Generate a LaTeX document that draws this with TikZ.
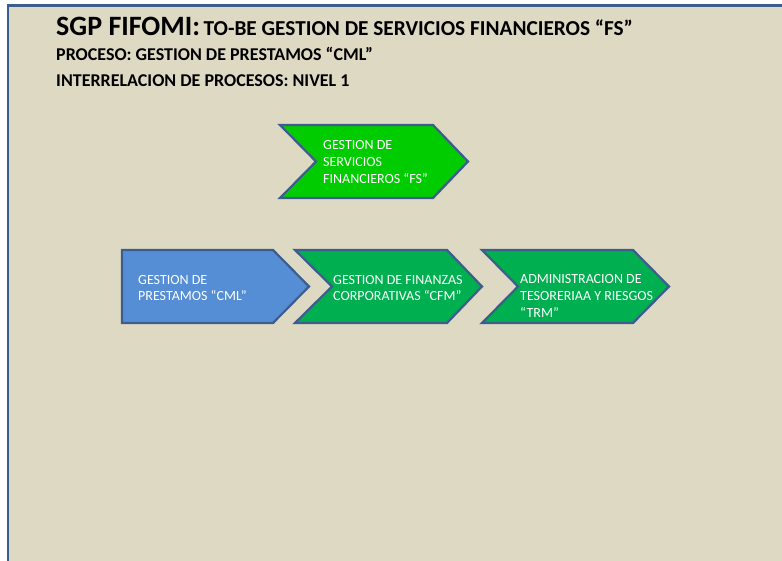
\documentclass[tikz,border=0pt]{standalone}
\usepackage{fontspec}
\setmainfont{Carlito}
\definecolor{bgtan}{HTML}{DDD9C3}
\definecolor{frameblue}{HTML}{3B5E8F}
\definecolor{edgeblue}{HTML}{3E5C8C}
\definecolor{brightgreen}{HTML}{00CC00}
\definecolor{midgreen}{HTML}{00B050}
\definecolor{boxblue}{HTML}{558ED5}
\tikzset{
  shapebox/.style={draw=edgeblue, line width=2.2pt, line join=miter},
  shapetext/.style={text=white, align=left, inner sep=0pt, font=\fontsize{14}{17}\selectfont},
  titletext/.style={inner sep=0pt, font=\fontsize{18}{22}\selectfont\bfseries, text=black}
}
\begin{document}
\begin{tikzpicture}[x=1pt,y=-1pt]
\useasboundingbox (0,0) rectangle (782,560);
\fill[white] (0,0) rectangle (782,560);
\fill[bgtan] (8,5.5) rectangle (800,580);
\draw[frameblue, line width=2.6pt] (800,5.5) -- (8,5.5) -- (8,580);

% title
\node[titletext, anchor=base west] (t1) at (56,35) {{\fontsize{28}{32}\selectfont SGP FIFOMI:}{\fontsize{21.3}{24}\selectfont\,TO-BE GESTION DE SERVICIOS FINANCIEROS “FS”}};
\node[titletext, anchor=base west] (t2) at (56,60) {PROCESO: GESTION DE PRESTAMOS “CML”};
\node[titletext, anchor=base west] (t3) at (56,86) {INTERRELACION DE PROCESOS: NIVEL 1};

% top chevron
\draw[shapebox, fill=brightgreen] (280,125) -- (433,125) -- (468,161.5) -- (433,198) -- (280,198) -- (316,161.5) -- cycle;
\node[shapetext, anchor=west] (fs) at (323,162) {GESTION DE\\SERVICIOS\\FINANCIEROS “FS”};

% blue pentagon
\draw[shapebox, fill=boxblue] (122,250) -- (273,250) -- (309,286.5) -- (273,323) -- (122,323) -- cycle;
\node[shapetext, anchor=west] (cml) at (138,288) {GESTION DE\\PRESTAMOS “CML”};

% green chevron 2
\draw[shapebox, fill=midgreen] (295,250) -- (447,250) -- (482,286.5) -- (447,323) -- (295,323) -- (332,286.5) -- cycle;
\node[shapetext, anchor=west] (cfm) at (333,288) {GESTION DE FINANZAS\\CORPORATIVAS “CFM”};

% green chevron 3
\draw[shapebox, fill=midgreen] (482,250) -- (633,250) -- (669,286.5) -- (633,323) -- (482,323) -- (518,286.5) -- cycle;
\node[shapetext, anchor=west] (trm) at (520,296) {ADMINISTRACION DE\\TESORERIAA Y RIESGOS\\“TRM”};
\end{tikzpicture}
\end{document}
